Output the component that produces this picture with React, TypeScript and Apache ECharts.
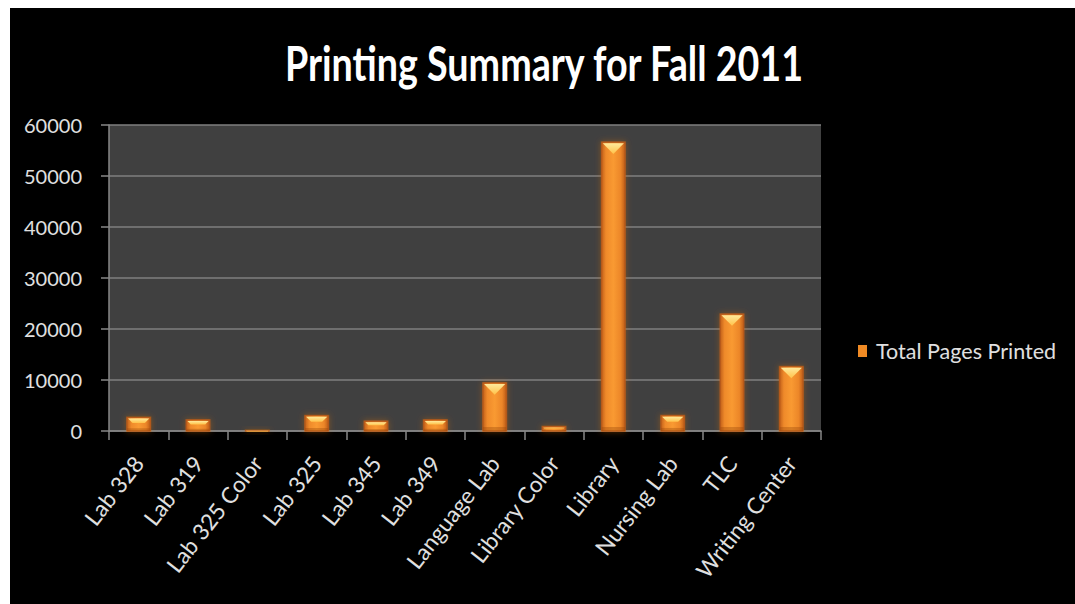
import React, { useEffect, useRef } from "react";
import * as echarts from "echarts";

const categories = [
  "Lab 328",
  "Lab 319",
  "Lab 325 Color",
  "Lab 325",
  "Lab 345",
  "Lab 349",
  "Language Lab",
  "Library Color",
  "Library",
  "Nursing Lab",
  "TLC",
  "Writing Center",
];
const totalPagesPrinted = [2650, 2150, 100, 3000, 1900, 2150, 9400, 850, 56600, 3000, 22900, 12600];
const seriesName = "Total Pages Printed";
const titleText = "Printing Summary for Fall 2011";
const yTicks = { min: 0, max: 60000, interval: 10000 };

export default function App() {
  const ref = useRef<HTMLDivElement>(null);
  useEffect(() => {
    if (!ref.current) return;
    const chart = echarts.init(ref.current, null, { renderer: "svg" });
    const data = totalPagesPrinted.map((v, i) => [i, v]);
    const option: any = {
      animation: false,
      backgroundColor: "#ffffff",
      graphic: [
        {
          type: "rect",
          shape: { x: 10, y: 8, width: 1065, height: 596 },
          style: { fill: "#000000" },
          z: -10,
          silent: true,
        },
        {
          type: "text",
          x: 544,
          y: 62,
          scaleX: 0.785,
          style: {
            text: titleText,
            fill: "#ffffff",
            font: "bold 48px Lato",
            align: "center",
            verticalAlign: "middle",
          },
          z: 10,
        },
      ],
      grid: {
        left: 109,
        top: 125,
        right: 254,
        bottom: 173,
        show: true,
        backgroundColor: "#404040",
        borderWidth: 0,
      },
      legend: {
        show: true,
        left: 858,
        top: 340,
        padding: 0,
        icon: "rect",
        itemWidth: 9,
        itemHeight: 12,
        data: [seriesName],
        textStyle: {
          color: "#e0e0e0",
          fontFamily: "Lato",
          fontSize: 21.5,
          padding: [0, 0, 0, 4],
        },
      },
      xAxis: {
        type: "category",
        data: categories,
        boundaryGap: true,
        axisLine: { show: true, lineStyle: { color: "#878787", width: 1.5 } },
        axisTick: { show: true, length: 9, lineStyle: { color: "#878787", width: 1.5 } },
        axisLabel: {
          rotate: 52,
          interval: 0,
          margin: 28,
          color: "#e0e0e0",
          fontFamily: "Lato",
          fontSize: 22.5,
        },
        splitLine: { show: false },
      },
      yAxis: {
        type: "value",
        min: yTicks.min,
        max: yTicks.max,
        interval: yTicks.interval,
        axisLine: { show: true, lineStyle: { color: "#878787", width: 1.5 } },
        axisTick: { show: true, length: 8, inside: false, lineStyle: { color: "#878787", width: 1.5 } },
        axisLabel: {
          margin: 27,
          color: "#e0e0e0",
          fontFamily: "Lato",
          fontSize: 20,
          formatter: (v: number) => String(v),
        },
        splitLine: { show: true, lineStyle: { color: "#7f7f7f", width: 1.5 } },
      },
      series: [
        {
          name: seriesName,
          type: "custom",
          itemStyle: { color: "#f08a24" },
          encode: { x: 0, y: 1 },
          data,
          renderItem: (params: any, api: any) => {
            const xi = api.value(0);
            const v = api.value(1);
            const topPt = api.coord([xi, v]);
            const basePt = api.coord([xi, 0]);
            const bw = api.size([1, 0])[0] * 0.39;
            const x0 = topPt[0] - bw / 2;
            const x1 = topPt[0] + bw / 2;
            const yTop = topPt[1];
            const yBase = basePt[1];
            const h = Math.max(yBase - yTop, 0.5);
            const d = Math.min(bw / 2, h * 0.4);
            return {
              type: "group",
              children: [
                {
                  type: "rect",
                  shape: { x: x0 - 1, y: yTop - 1, width: bw + 2, height: h + 2 },
                  style: {
                    fill: "rgba(200,100,20,0.55)",
                    shadowBlur: 6,
                    shadowColor: "rgba(220,110,20,0.7)",
                  },
                },
                {
                  type: "rect",
                  shape: { x: x0, y: yTop, width: bw, height: h },
                  style: {
                    fill: new echarts.graphic.LinearGradient(0, 0, 1, 0, [
                      { offset: 0, color: "#c4621a" },
                      { offset: 0.18, color: "#ef8a2a" },
                      { offset: 0.5, color: "#f99a32" },
                      { offset: 0.82, color: "#ec8628" },
                      { offset: 1, color: "#bf5e18" },
                    ]),
                    stroke: "#b8591a",
                    lineWidth: 1,
                  },
                },
                {
                  type: "polygon",
                  shape: {
                    points: [
                      [x0 + 1, yTop + 1],
                      [x1 - 1, yTop + 1],
                      [x1 - d, yTop + d],
                      [x0 + d, yTop + d],
                    ],
                  },
                  style: {
                    fill: new echarts.graphic.LinearGradient(0, 0, 0, 1, [
                      { offset: 0, color: "#ffe99a" },
                      { offset: 1, color: "#ffc24a" },
                    ]),
                  },
                },
                {
                  type: "rect",
                  shape: { x: x0, y: yBase - Math.min(4, h * 0.2), width: bw, height: Math.min(4, h * 0.2) },
                  style: { fill: "rgba(150,70,10,0.35)" },
                },
              ],
            };
          },
        },
      ],
    };
    chart.setOption(option);
    return () => chart.dispose();
  }, []);
  return (
    <div
      ref={ref}
      style={{ position: "absolute", left: 0, top: 0, width: 1075, height: 604 }}
    />
  );
}
